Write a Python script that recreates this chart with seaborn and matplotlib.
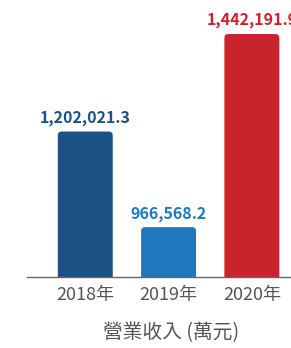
import matplotlib
matplotlib.use("Agg")
import matplotlib.pyplot as plt
import seaborn as sns
import pandas as pd
from matplotlib.patches import FancyBboxPatch

years = ["2018年", "2019年", "2020年"]
values = [1202021.3, 966568.2, 1442191.9]
labels = ["1,202,021.3", "966,568.2", "1,442,191.9"]
colors = ["#1b5285", "#1f78be", "#c9232c"]
xlabel = "營業收入 (萬元)"

sns.set_theme(style="white")
plt.rcParams['font.family'] = ['Noto Sans CJK TC', 'DejaVu Sans']

W, H = 291, 348
fig = plt.figure(figsize=(W / 100, H / 100), dpi=100)
ax = fig.add_axes([27 / W, 1 - 276.5 / H, 1 - 27 / W, 276.5 / H])

df = pd.DataFrame({"year": years, "value": values})
sns.barplot(data=df, x="year", y="value", hue="year", palette=colors,
            width=0.66, ax=ax, legend=False, saturation=1)

ax.set_xlim(-0.70, 2.47)
ax.set_ylim(845000, 1526000)

# rounded tops
fig.canvas.draw()
inv = ax.transData
p0 = inv.transform((0, 0)); p1 = inv.transform((1, 1))
xpx = abs(p1[0] - p0[0]); ypx = abs(p1[1] - p0[1])
aspect = (1 / ypx) / (1 / xpx)
r = 4 / xpx
for patch, c in zip(list(ax.patches), colors):
    x, y = patch.get_x(), patch.get_y()
    w, h = patch.get_width(), patch.get_height()
    patch.remove()
    fb = FancyBboxPatch((x, y), w, h, boxstyle=f"round,pad=0,rounding_size={r}",
                        mutation_aspect=aspect, facecolor=c, edgecolor="none")
    ax.add_patch(fb)

for i, (v, lab, c) in enumerate(zip(values, labels, colors)):
    ax.annotate(lab, (i, v), xytext=(0, 4), textcoords="offset points",
                ha="center", va="bottom", fontsize=11.5, fontweight="bold",
                color=c, annotation_clip=False)

for s in ["top", "right", "left"]:
    ax.spines[s].set_visible(False)
ax.spines["bottom"].set_color("#666666")
ax.spines["bottom"].set_linewidth(1.0)
ax.set_yticks([])
ax.set_ylabel("")
ax.tick_params(axis="x", length=0, pad=6.5, labelsize=13, labelcolor="#555555")
ax.set_xlabel("")
fig.text(171.5 / W, 1 - 333 / H, xlabel, ha="center", va="center",
         fontsize=14.2, color="#555555")

fig.savefig("out.png", dpi=100)
